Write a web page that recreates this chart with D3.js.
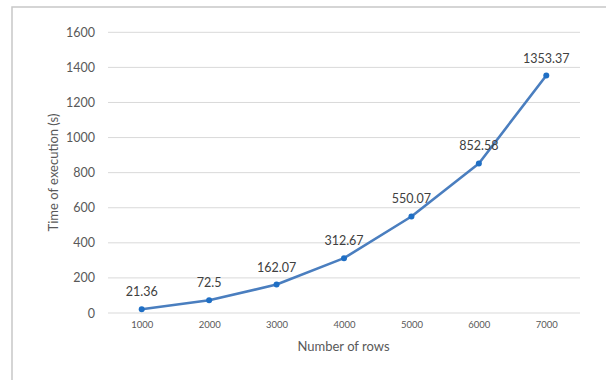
<!DOCTYPE html>
<html>
<head>
<meta charset="utf-8">
<script src="https://cdn.jsdelivr.net/npm/d3@7/dist/d3.min.js"></script>
<style>
  html, body { margin: 0; padding: 0; background: #fff; }
  svg { display: block; font-family: Lato, "Open Sans", sans-serif; }
</style>
</head>
<body>
<svg id="chart" width="606" height="380"></svg>
<script>
// Execution time by table size
const rows = ["1000", "2000", "3000", "4000", "5000", "6000", "7000"];
const seconds = [21.36, 72.5, 162.07, 312.67, 550.07, 852.58, 1353.37];
const yTicks = [0, 200, 400, 600, 800, 1000, 1200, 1400, 1600];

const svg = d3.select("#chart");
const plot = { left: 108, right: 580, top: 32.3, bottom: 313 };

// Chart frame (left and top edges visible)
svg.append("path")
  .attr("d", "M12,380 L12,7 L606,7")
  .attr("fill", "none")
  .attr("stroke", "#c8c8c8")
  .attr("stroke-width", 1.5);

const x = d3.scalePoint().domain(rows).range([plot.left, plot.right]).padding(0.5);
const y = d3.scaleLinear().domain([0, 1600]).range([plot.bottom, plot.top]);

// Horizontal gridlines
svg.append("g")
  .selectAll("line")
  .data(yTicks)
  .join("line")
  .attr("x1", plot.left).attr("x2", plot.right)
  .attr("y1", d => y(d)).attr("y2", d => y(d))
  .attr("stroke", "#d9d9d9").attr("stroke-width", 1);

// Y axis labels
const yAxis = svg.append("g")
  .attr("transform", `translate(${plot.left - 13},0)`)
  .call(d3.axisLeft(y).tickValues(yTicks).tickFormat(d3.format("d")).tickSize(0).tickPadding(0));
yAxis.select(".domain").remove();
yAxis.selectAll("text")
  .attr("fill", "#595959")
  .style("font-size", "12.5px")
  .style("font-family", "Lato, 'Open Sans', sans-serif");

// X axis labels
const xAxis = svg.append("g")
  .attr("transform", `translate(0,${plot.bottom + 8})`)
  .call(d3.axisBottom(x).tickSize(0).tickPadding(0));
xAxis.select(".domain").remove();
xAxis.selectAll("text")
  .attr("fill", "#595959")
  .style("font-size", "9.5px")
  .style("font-family", "Lato, 'Open Sans', sans-serif");

// Axis titles
svg.append("text")
  .attr("x", (plot.left + plot.right) / 2 - 0.5)
  .attr("y", 351)
  .attr("text-anchor", "middle")
  .attr("fill", "#595959")
  .style("font-size", "13px")
  .text("Number of rows");

svg.append("text")
  .attr("transform", "translate(58,172.5) rotate(-90)")
  .attr("text-anchor", "middle")
  .attr("fill", "#595959")
  .style("font-size", "13px")
  .text("Time of execution (s)");

// Series line
const line = d3.line()
  .x((d, i) => x(rows[i]))
  .y(d => y(d));

svg.append("path")
  .datum(seconds)
  .attr("d", line)
  .attr("fill", "none")
  .attr("stroke", "#4a7ebf")
  .attr("stroke-width", 2.6)
  .attr("stroke-linejoin", "round");

// Markers
svg.append("g")
  .selectAll("circle")
  .data(seconds)
  .join("circle")
  .attr("cx", (d, i) => x(rows[i]))
  .attr("cy", d => y(d))
  .attr("r", 3)
  .attr("fill", "#1f6fc5");

// Data labels
svg.append("g")
  .selectAll("text")
  .data(seconds)
  .join("text")
  .attr("x", (d, i) => x(rows[i]))
  .attr("y", d => y(d) - 13)
  .attr("text-anchor", "middle")
  .attr("fill", "#404040")
  .style("font-size", "12.5px")
  .text(d => String(d));
</script>
</body>
</html>
